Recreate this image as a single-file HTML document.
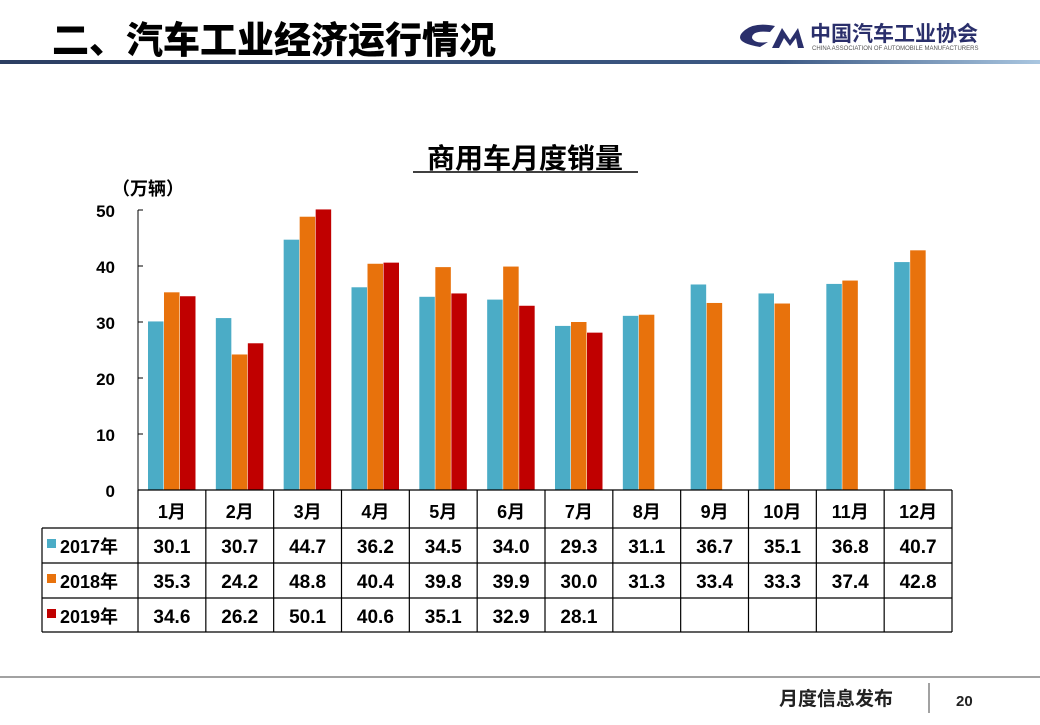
<!DOCTYPE html>
<html><head><meta charset="utf-8"><style>
body{margin:0;background:#fff;width:1040px;height:720px;overflow:hidden}
svg text{font-family:"Liberation Sans","Noto Sans CJK SC",sans-serif;font-weight:bold}
</style></head><body>
<svg id="s" width="1040" height="720" xmlns="http://www.w3.org/2000/svg">
<defs><linearGradient id="g" x1="0" x2="1"><stop offset="0" stop-color="#2c3e62"/><stop offset="0.75" stop-color="#3d5a85"/><stop offset="1" stop-color="#a9c6e0"/></linearGradient></defs>
<text x="52" y="53" font-size="37" fill="#000" style="font-family:'Noto Sans CJK SC',sans-serif;font-weight:900">二、汽车工业经济运行情况</text>
<rect x="0" y="60" width="1040" height="4" fill="url(#g)"/>
<path d="M760 47 Q730 42 745 30 Q755 22 775 26 L770 32 Q752 30 752 38 Q755 44 768 42 Z" fill="#2a2f6b"/>
<path d="M772 48 L782 28 L790 40 L798 28 L804 48 L798 48 L796 38 L790 46 L784 38 L779 48 Z" fill="#2a2f6b"/>
<text x="810" y="41" font-size="21" fill="#2a2f6b" style="font-family:'Noto Sans CJK SC',sans-serif">中国汽车工业协会</text>
<text x="812" y="50" font-size="6" fill="#555" style="font-weight:normal">CHINA ASSOCIATION OF AUTOMOBILE MANUFACTURERS</text>
<text x="525" y="168" font-size="28" text-anchor="middle">商用车月度销量</text>
<line x1="413" y1="172" x2="638" y2="172" stroke="#000" stroke-width="1.5"/>
<text x="112" y="195" font-size="18">（万辆）</text>
<g id="ax"></g>
<line x1="0" y1="677" x2="1040" y2="677" stroke="#444" stroke-width="1"/>
<line x1="929" y1="683" x2="929" y2="713" stroke="#444" stroke-width="1"/>
<text x="779" y="705" font-size="19" fill="#222">月度信息发布</text>
<text x="956" y="706" font-size="15" fill="#222">20</text>
</svg>
<script>
const d=[[30.1,30.7,44.7,36.2,34.5,34.0,29.3,31.1,36.7,35.1,36.8,40.7],[35.3,24.2,48.8,40.4,39.8,39.9,30.0,31.3,33.4,33.3,37.4,42.8],[34.6,26.2,50.1,40.6,35.1,32.9,28.1]];
const c=['#4bacc6','#e8720c','#c00000'],yr=['2017年','2018年','2019年'];
let h='';const L=138,R=952,W=(R-L)/12;
h+=`<line x1="${L}" y1="210" x2="${L}" y2="490" stroke="#000"/>`;
for(let v=0;v<=50;v+=10){const y=490-v*5.6;h+=`<line x1="${L}" y1="${y}" x2="${L+5}" y2="${y}" stroke="#000"/><text x="115" y="${y+7}" font-size="17" text-anchor="end">${v}</text>`;}
for(let s=0;s<3;s++)d[s].forEach((v,i)=>{const x=L+i*W+10+s*16;h+=`<rect x="${x}" y="${490-v*5.6}" width="15.5" height="${v*5.6}" fill="${c[s]}"/>`;});
const rows=[490,528,563,598,632];
h+=`<g stroke="#000" stroke-width="1.2">`;
h+=`<line x1="${L}" y1="490" x2="${R}" y2="490"/><line x1="42" y1="528" x2="${R}" y2="528"/>`;
for(let r=2;r<5;r++)h+=`<line x1="42" y1="${rows[r]}" x2="${R}" y2="${rows[r]}"/>`;
h+=`<line x1="42" y1="528" x2="42" y2="632"/>`;
for(let i=0;i<=12;i++){const x=L+i*W;h+=`<line x1="${x}" y1="490" x2="${x}" y2="632"/>`;}
h+=`</g>`;
for(let i=0;i<12;i++){const cx=L+i*W+W/2;h+=`<text x="${cx}" y="518" font-size="18" text-anchor="middle">${i+1}月</text>`;
for(let s=0;s<3;s++)if(d[s][i]!==undefined)h+=`<text x="${cx}" y="${rows[s+1]+25}" font-size="19" text-anchor="middle">${d[s][i].toFixed(1)}</text>`;}
for(let s=0;s<3;s++){h+=`<rect x="47" y="${rows[s+1]+11}" width="9" height="9" fill="${c[s]}"/><text x="60" y="${rows[s+1]+25}" font-size="18">${yr[s]}</text>`;}
document.getElementById('ax').innerHTML=h;
</script>
</body></html>
